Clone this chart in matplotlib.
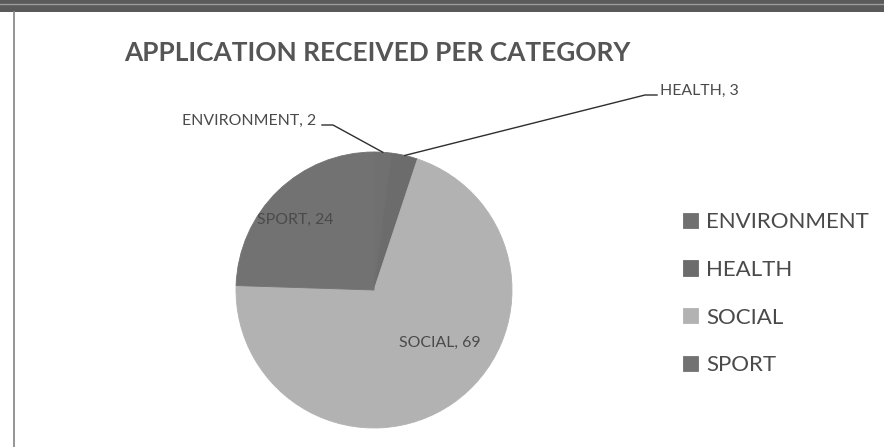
import numpy as np
import matplotlib
matplotlib.use("Agg")
import matplotlib.pyplot as plt
from matplotlib.patches import Rectangle
from matplotlib.lines import Line2D

plt.rcParams["font.family"] = ["Lato", "DejaVu Sans"]

# Applications received, by category
categories = ["ENVIRONMENT", "HEALTH", "SOCIAL", "SPORT"]
applications = [2, 3, 69, 24]
slice_colors = ["#707070", "#6c6c6c", "#b2b2b2", "#727272"]
title_text = "APPLICATION RECEIVED PER CATEGORY"

W, H = 884, 447
fig = plt.figure(figsize=(W / 100, H / 100), dpi=100)
fig.patch.set_facecolor("white")


def fx(px):
    return px / W


def fy(py):
    return 1 - py / H


# frame decoration: dark band on top, thin rule on the left
fig.add_artist(Rectangle((0, fy(12)), 1, 12 / H, transform=fig.transFigure,
                         facecolor="#5a5a5a", edgecolor="none"))
fig.add_artist(Line2D([0, 1], [fy(3.5), fy(3.5)], transform=fig.transFigure,
                      color="#9c9c9c", lw=1.0))
fig.add_artist(Line2D([fx(14), fx(14)], [fy(12), 0], transform=fig.transFigure,
                      color="#8c8c8c", lw=1.3))

# pie axes
cx, cy, r = 374, 290, 138
ax = fig.add_axes([fx(cx - r), fy(cy + r), 2 * r / W, 2 * r / H])
wedges, _ = ax.pie(applications, colors=slice_colors, startangle=90,
                   counterclock=False, radius=1,
                   wedgeprops=dict(linewidth=0.6))
for w in wedges:
    w.set_edgecolor(w.get_facecolor())
ax.set_xlim(-1, 1)
ax.set_ylim(-1, 1)
ax.axis("off")


def to_data(px, py):
    return (px - cx) / r, (cy - py) / r


def edge_point(w):
    a = np.deg2rad((w.theta1 + w.theta2) / 2)
    return np.cos(a), np.sin(a)


label_color = "#4a4a4a"
label_size = 11.4
labels = [f"{c}, {v}" for c, v in zip(categories, applications)]

# outside labels with leader lines
fig.text(fx(316), fy(121), labels[0], ha="right", va="center",
         fontsize=label_size, color=label_color)
ex, ey = edge_point(wedges[0])
p1 = to_data(322, 125)
p2 = to_data(333, 125)
ax.add_line(Line2D([p1[0], p2[0], ex], [p1[1], p2[1], ey], color="#2e2e2e",
                   lw=1.0, clip_on=False))

fig.text(fx(660), fy(91), labels[1], ha="left", va="center",
         fontsize=label_size, color=label_color)
hx, hy = edge_point(wedges[1])
q1 = to_data(657, 95)
q2 = to_data(645, 95)
ax.add_line(Line2D([q1[0], q2[0], hx], [q1[1], q2[1], hy], color="#2e2e2e",
                   lw=1.0, clip_on=False))

# inside labels
fig.text(fx(295), fy(220), labels[3], ha="center", va="center",
         fontsize=label_size, color=label_color)
fig.text(fx(440), fy(343), labels[2], ha="center", va="center",
         fontsize=label_size, color=label_color)

# title
fig.text(fx(124), fy(53), title_text, ha="left", va="center",
         fontsize=18.9, fontweight="bold", color="#555555")

# legend
fig.legend(wedges, categories, loc="upper left",
           bbox_to_anchor=(fx(663), fy(192)), frameon=False,
           fontsize=16.0, handlelength=0.68, handleheight=0.68,
           handletextpad=0.35, labelspacing=1.25, labelcolor="#4a4a4a")

fig.savefig("out.png", dpi=100, facecolor="white")
